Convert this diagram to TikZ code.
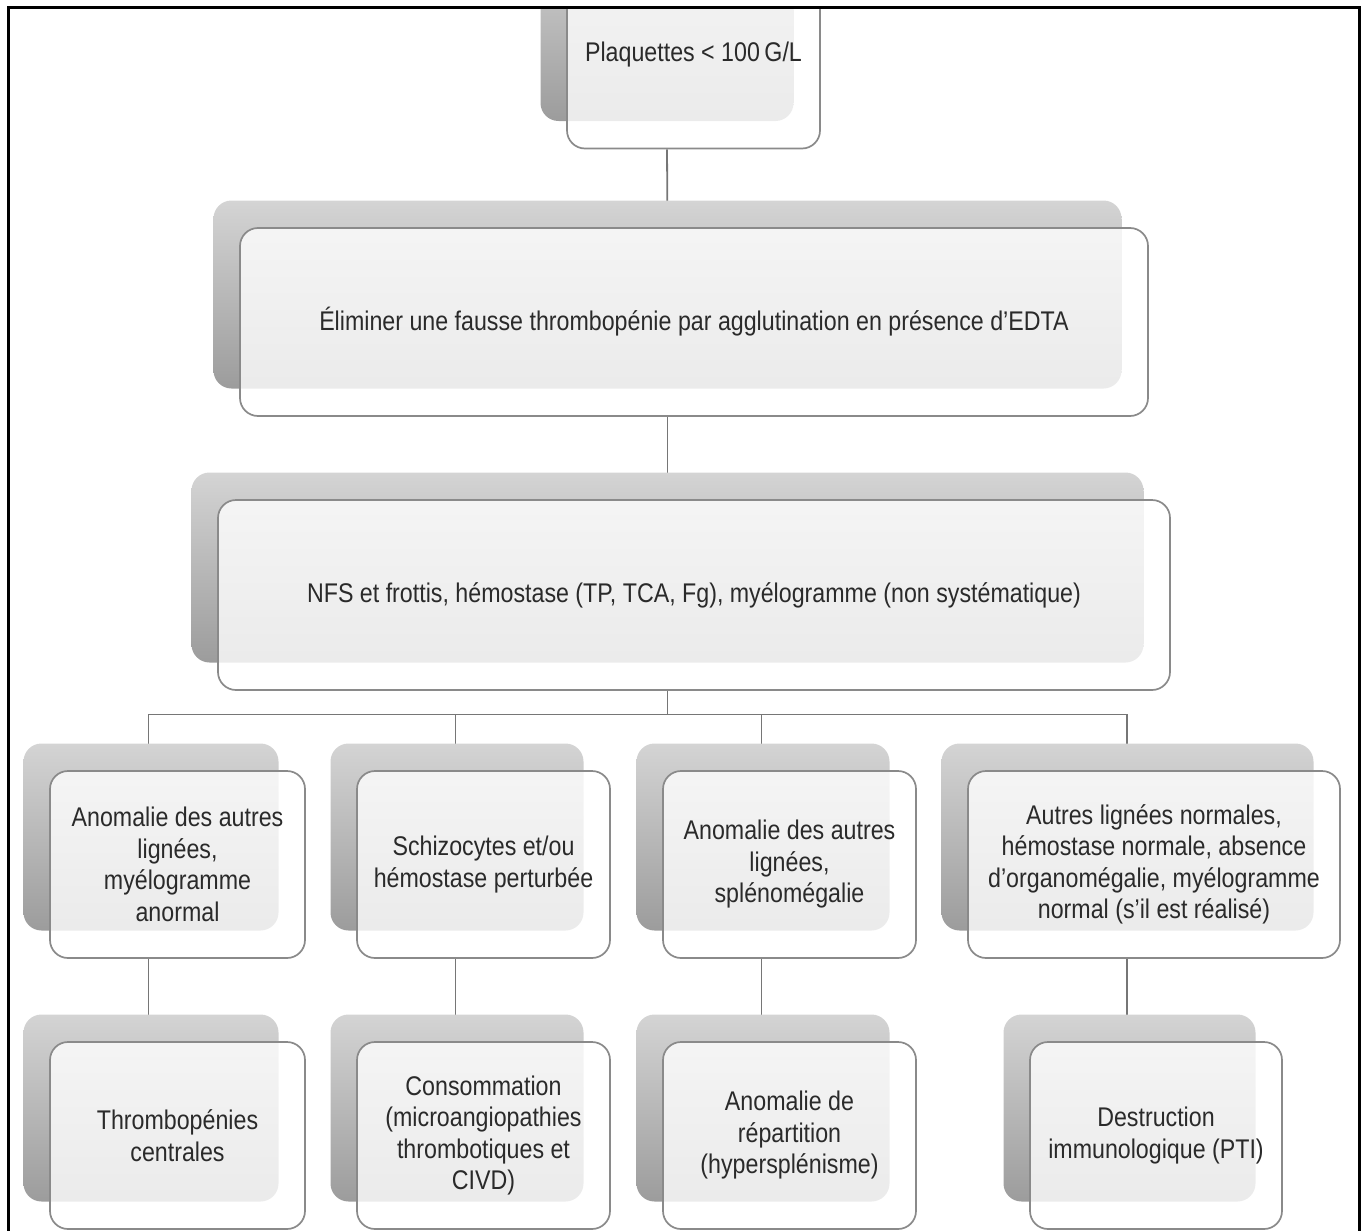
\documentclass[tikz,border=0pt]{standalone}
\usepackage{fontspec}
\setmainfont{Liberation Sans}[FakeStretch=0.86]
\usetikzlibrary{shadows,calc}
\definecolor{txt}{HTML}{2A2A2A}
\definecolor{edge}{HTML}{8A8A8A}
\definecolor{linkc}{HTML}{767676}
\definecolor{shtop}{HTML}{D4D4D4}
\definecolor{shbot}{HTML}{9C9C9C}
\pgfdeclarelayer{bg}
\pgfsetlayers{bg,main}
\tikzset{
  card/.style={draw=edge, line width=1.7pt, rounded corners=18pt, fill=white,
    fill opacity=0.8, text opacity=1, text=txt, align=center, inner sep=0pt,
    font=\fontsize{27}{31.5}\selectfont, minimum height=187pt,
    general shadow={shadow xshift=-26.5pt, shadow yshift=27.5pt, draw=none,
      fill opacity=1, top color=shtop, bottom color=shbot}},
  linkline/.style={draw=linkc, line width=1.8pt},
  frameline/.style={draw=black, line width=3pt},
}
\begin{document}
\begin{tikzpicture}[x=1pt,y=-1pt]
\useasboundingbox (0,0) rectangle (1368,1231);
\clip (0,0) rectangle (1368,1231);
\begin{scope}
\clip (0,9.5) rectangle (1368,1231);
\node[card, minimum width=253pt] (n1) at (693.5,55) {Plaquettes < 100\,G/L};
\node[card, minimum width=908pt, minimum height=188pt] (n2) at (694,322) {Éliminer une fausse thrombopénie par agglutination en présence d'EDTA};
\node[card, minimum width=952pt, minimum height=190pt] (n3) at (694,595) {NFS et frottis, hémostase (TP, TCA, Fg), myélogramme (non systématique)};
\node[card, minimum width=255pt] (a4) at (177.5,864.5) {Anomalie des autres\\lignées,\\myélogramme\\anormal};
\node[card, minimum width=253pt] (b4) at (483.5,864.5) {Schizocytes et/ou\\hémostase perturbée};
\node[card, minimum width=253pt] (c4) at (789.5,864.5) {Anomalie des autres\\lignées,\\splénomégalie};
\node[card, minimum width=372pt] (d4) at (1154,864.5) {Autres lignées normales,\\hémostase normale, absence\\d'organomégalie, myélogramme\\normal (s'il est réalisé)};
\node[card, minimum width=255pt] (a5) at (177.5,1135.5) {Thrombopénies\\centrales};
\node[card, minimum width=253pt] (b5) at (483.5,1135.5) {Consommation\\(microangiopathies\\thrombotiques et\\CIVD)};
\node[card, minimum width=253pt] (c5) at (789.5,1135.5) {Anomalie de\\répartition\\(hypersplénisme)};
\node[card, minimum width=252pt] (d5) at (1156,1135.5) {Destruction\\immunologique (PTI)};
\end{scope}
\coordinate (bus) at (667.5,714.5);
\begin{pgfonlayer}{bg}
\draw[linkline] ([xshift=-26.5pt]n1.south) -- ([xshift=-26.5pt]n2.north);
\draw[linkline] ([xshift=-26.5pt]n2.south) -- ([xshift=-26.5pt]n3.north);
\draw[linkline] ([xshift=-26.5pt]n3.south) -- (bus);
\draw[linkline] (bus) -| ([xshift=-29pt]a4.north);
\draw[linkline] (bus) -| ([xshift=-28pt]b4.north);
\draw[linkline] (bus) -| ([xshift=-28pt]c4.north);
\draw[linkline] (bus) -| ([xshift=-27pt]d4.north);
\draw[linkline] ([xshift=-29pt]a4.south) -- ([xshift=-29pt]a5.north);
\draw[linkline] ([xshift=-28pt]b4.south) -- ([xshift=-28pt]b5.north);
\draw[linkline] ([xshift=-28pt]c4.south) -- ([xshift=-28pt]c5.north);
\draw[linkline] ([xshift=-27pt]d4.south) -- ([xshift=-29pt]d5.north);
\end{pgfonlayer}
\draw[frameline] (8,1300) -- (8,8) -- (1359.5,8) -- (1359.5,1300);
\end{tikzpicture}
\end{document}
